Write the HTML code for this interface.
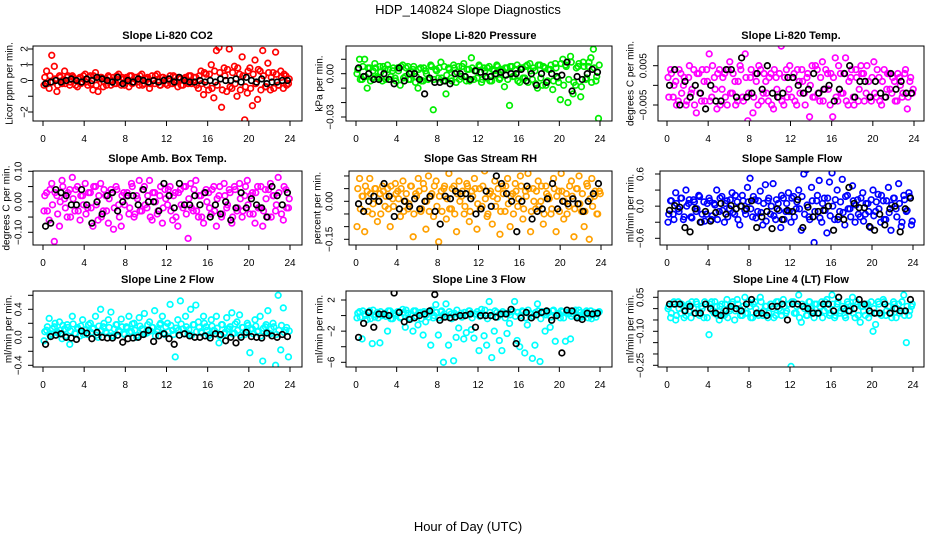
<!DOCTYPE html>
<html><head><meta charset="utf-8"><style>
html,body{margin:0;padding:0;background:#fff;}
svg{display:block;font-family:"Liberation Sans",sans-serif;}
</style></head><body>
<svg id="chart" width="936" height="540" viewBox="0 0 936 540">
<rect width="936" height="540" fill="#fff"/>
<text x="468" y="14" text-anchor="middle" font-size="13">HDP_140824  Slope Diagnostics</text>
<text x="468" y="531" text-anchor="middle" font-size="13">Hour of Day (UTC)</text>
</svg>
<script>
const xTicks=[0,4,8,12,16,20,24];
const titles=["Slope Li-820 CO2","Slope Li-820 Pressure","Slope Li-820 Temp.","Slope Amb. Box Temp.","Slope Gas Stream RH","Slope Sample Flow","Slope Line 2 Flow","Slope Line 3 Flow","Slope Line 4 (LT) Flow"];
const yTitles=["Licor ppm per min.","kPa per min.","degrees C per min.","degrees C per min.","percent per min.","ml/min per min.","ml/min per min.","ml/min per min.","ml/min per min."];
const yTicks1=[-2,-1,0,1,2], yLab1=["−2","","0","1","2"];
const yTicks2=[-0.03,-0.02,-0.01,0,0.01], yLab2=["−0.03","","","0.00",""];
const yTicks3=[-0.005,0,0.005], yLab3=["−0.005","","0.005"];
const yTicks4=[-0.1,-0.05,0,0.05,0.1], yLab4=["−0.10","","0.00","","0.10"];
const yTicks5=[-0.15,-0.1,-0.05,0,0.05,0.1], yLab5=["−0.15","","","0.00","",""];
const yTicks6=[-0.6,-0.3,0,0.3,0.6], yLab6=["−0.6","","0.0","","0.6"];
const yTicks7=[-0.4,-0.2,0,0.2,0.4,0.6], yLab7=["−0.4","","0.0","","0.4",""];
const yTicks8=[-6,-4,-2,0,2], yLab8=["−6","","−2","","2"];
const yTicks9=[-0.25,-0.2,-0.15,-0.1,-0.05,0,0.05], yLab9=["−0.25","","","−0.10","","","0.05"];

const c1=[-0.3,0.6,-0.5,1.6,0.9,-0.7,0.3,-0.2,0.6,0.2,-0.3,0.3,0.1,-0.4,0.2,-0.1,
0.4,-0.3,0.3,-0.6,0.5,-0.7,0.2,-0.4,0.1,0.3,-0.3,0.2,-0.2,0.4,-0.3,0.1,
0.2,-0.4,0.3,-0.1,0.2,-0.3,0.4,-0.2,0.1,-0.5,0.3,-0.2,0.4,-0.3,0.2,0.1,
-0.3,0.3,-0.2,0.2,-0.4,0.1,-0.3,0.2,-0.2,0.3,-0.1,0.2,-0.5,0.6,-0.9,0.4,
-0.6,1.0,-1.1,1.9,2.1,-1.7,0.8,-0.7,2.0,-0.5,0.9,-1.0,0.4,1.5,-2.5,-0.8,
0.8,-1.6,1.3,-1.2,0.6,1.9,-0.4,1.1,-0.6,0.5,1.8,-0.3,0.6,-0.5,0.3,-0.2];
const d1=[0.2,-0.2,0.3,-0.1,0.1,-0.3,0.2,0.0,-0.2,0.3,-0.1,0.2,-0.3,0.1,-0.2,0.3,
-0.1,0.2,-0.2,0.3,-0.3,0.1,0.2,-0.1,-0.3,0.2,0.0,-0.2,0.3,-0.1,0.2,-0.3,
0.1,0.3,-0.2,0.2,-0.1,0.3,-0.3,0.1,0.2,-0.2,0.0,0.3,-0.1,-0.3,0.2,-0.2,
0.1,-0.2,0.3,-0.1,0.2,-0.3,0.1,-0.1,0.3,-0.2,0.2,-0.3,0.3,-0.2,0.5,-0.3,
0.4,-0.5,0.6,-0.3,0.5,-0.6,0.3,0.7,-0.4,0.5,-0.2,0.8,-0.6,0.3,-0.4,0.6,
-0.5,0.4,-0.2,0.7,-0.6,0.3,-0.4,0.5,0.2,-0.5,0.4,-0.3,0.2,0.4,-0.3,0.1];
const b1=[-0.2,-0.1,0.0,-0.1,0.0,0.1,0.0,-0.1,
0.1,0.0,0.2,0.1,0.0,-0.1,0.2,-0.2,
0.0,-0.1,0.1,0.0,-0.1,0.0,-0.1,0.0,
0.1,-0.1,0.2,0.0,-0.1,-0.1,0.0,-0.1,
0.0,-0.1,0.1,0.0,0.0,0.1,-0.1,0.2,
0.0,-0.1,0.1,-0.2,-0.1,-0.1,0.0,0.0];
const c2=[0.000,0.010,-0.004,0.010,-0.010,0.004,-0.003,0.007,-0.002,0.005,-0.005,0.003,0.006,-0.004,0.002,-0.003,
0.004,-0.008,0.006,-0.002,0.005,-0.004,0.003,-0.006,-0.010,0.004,-0.005,0.002,-0.004,0.006,-0.025,0.003,
-0.003,0.008,-0.005,-0.014,0.004,-0.003,0.006,-0.006,0.005,-0.002,0.007,-0.005,0.003,0.011,-0.004,0.002,
0.006,-0.006,0.004,-0.003,0.005,-0.005,0.002,0.006,-0.004,0.003,-0.009,0.004,-0.022,0.005,-0.002,0.006,
-0.006,0.004,-0.003,0.006,0.007,-0.004,0.002,-0.010,0.006,-0.008,0.004,-0.005,0.003,-0.011,0.007,-0.003,
-0.018,0.010,0.006,-0.020,0.012,-0.014,-0.008,0.005,-0.016,0.008,-0.004,0.005,0.011,0.017,-0.005,-0.031];
const d2=[0.003,-0.004,0.005,-0.002,0.004,-0.005,0.002,0.004,-0.003,0.001,0.005,-0.004,0.003,-0.002,0.004,-0.005,
0.002,0.005,-0.003,0.004,-0.004,0.001,0.005,-0.002,0.003,-0.005,0.004,0.000,-0.003,0.005,-0.004,0.002,
0.004,-0.003,0.005,-0.001,0.003,-0.005,0.004,0.001,-0.004,0.005,-0.002,0.003,-0.005,0.004,0.002,-0.003,
0.005,-0.004,0.002,0.004,-0.005,0.003,-0.001,0.005,-0.003,0.002,0.004,-0.004,0.005,-0.002,0.003,-0.005,
0.004,-0.003,0.005,-0.006,0.002,0.004,-0.007,0.006,-0.003,0.005,-0.008,0.003,0.006,-0.005,0.004,-0.006,
0.007,-0.008,0.005,-0.004,0.008,-0.006,0.004,0.007,-0.009,0.005,-0.003,0.008,-0.006,0.004,-0.002,0.006];
const b2=[0.004,-0.002,0.000,-0.004,-0.004,0.000,-0.004,-0.007,
0.004,-0.005,0.000,0.000,-0.004,-0.014,-0.003,-0.006,
-0.006,-0.005,-0.007,0.000,0.000,-0.002,-0.004,0.002,
0.001,-0.002,-0.002,0.000,0.001,-0.001,0.000,0.000,
0.003,-0.005,0.000,-0.008,0.000,-0.006,0.000,-0.002,
-0.001,0.008,-0.012,-0.002,-0.004,0.000,0.003,0.001];
const c3=[0.002,0.004,-0.003,0.001,-0.004,0.003,0.000,-0.005,0.002,-0.002,0.004,-0.007,0.003,-0.004,0.001,0.004,
0.008,-0.003,0.002,-0.006,0.004,-0.001,0.003,-0.005,0.006,-0.002,0.001,-0.004,0.005,-0.003,0.008,-0.009,
0.002,-0.007,0.003,-0.005,0.004,-0.002,0.001,-0.004,0.003,-0.006,0.002,-0.003,0.010,-0.005,0.004,-0.001,
-0.003,0.003,-0.005,0.001,0.004,-0.002,0.002,-0.008,0.005,-0.003,0.004,-0.004,0.006,-0.001,0.003,-0.005,
-0.008,0.007,-0.004,0.003,-0.002,0.007,-0.005,0.002,-0.003,0.004,-0.004,0.005,0.003,-0.002,0.001,-0.004,
0.006,-0.003,0.002,-0.005,0.004,-0.001,0.003,-0.002,0.001,-0.004,0.002,-0.003,0.003,-0.006,0.001,-0.002];
const d3=[-0.003,0.003,0.000,-0.005,0.004,-0.002,0.002,-0.004,0.005,-0.001,-0.005,0.003,-0.002,0.004,-0.004,0.001,
-0.004,0.005,-0.001,0.003,-0.005,0.002,-0.003,0.004,-0.002,0.003,-0.005,0.001,0.004,-0.004,0.002,-0.002,
0.004,-0.003,0.001,0.005,-0.004,0.003,-0.002,0.002,-0.005,0.004,-0.001,0.003,-0.004,0.002,-0.003,0.005,
0.002,-0.004,0.004,-0.002,0.001,-0.005,0.003,0.000,-0.003,0.005,-0.002,0.002,-0.004,0.004,-0.001,0.003,
0.002,-0.003,0.005,-0.002,0.003,-0.004,0.001,0.004,-0.005,0.002,-0.001,0.003,-0.004,0.005,-0.003,0.002,
-0.002,0.004,-0.004,0.001,-0.003,0.003,-0.001,0.002,-0.004,0.003,0.000,-0.002,0.004,-0.003,0.002,-0.001];
const b3=[0.000,0.004,-0.005,0.001,-0.003,0.000,-0.002,-0.006,
0.000,-0.004,-0.004,0.004,0.004,-0.003,0.007,-0.003,
-0.002,0.003,-0.001,0.005,-0.002,-0.003,-0.002,0.002,
0.002,0.000,-0.002,-0.001,0.003,-0.002,-0.001,0.000,
-0.004,-0.001,0.003,0.005,-0.003,0.001,0.001,-0.003,
0.001,-0.002,-0.003,0.003,-0.001,0.001,-0.002,-0.002];
const c4=[-0.03,0.03,-0.06,0.06,-0.13,0.02,-0.08,0.07,0.01,-0.05,0.04,0.08,-0.03,0.05,-0.06,0.02,
0.06,-0.02,0.03,-0.08,0.05,-0.06,0.06,-0.03,0.02,-0.07,0.04,-0.09,0.05,-0.01,-0.08,0.03,
0.02,-0.04,0.06,-0.05,0.02,0.07,-0.03,0.05,-0.02,0.07,-0.06,0.03,-0.04,0.02,-0.07,0.04,
-0.01,0.05,-0.06,0.03,-0.08,0.04,-0.02,0.05,-0.12,0.06,-0.03,0.07,-0.05,0.02,-0.07,0.04,
0.03,-0.04,0.05,-0.08,0.02,-0.05,0.06,-0.02,0.04,-0.07,0.05,-0.03,0.06,-0.05,0.02,0.07,
-0.04,0.03,-0.07,0.05,-0.02,-0.08,0.04,-0.05,0.06,0.02,-0.03,0.08,0.11,-0.06,0.04,-0.02];
const d4=[0.02,-0.03,0.04,-0.01,0.03,-0.04,0.00,0.05,-0.02,0.03,-0.05,0.01,0.04,-0.03,0.02,-0.01,
-0.04,0.03,-0.02,0.05,-0.01,0.02,-0.05,0.04,-0.03,0.01,0.03,-0.02,0.04,-0.05,0.02,-0.01,
0.03,-0.02,0.05,-0.04,0.01,-0.03,0.04,-0.01,0.02,-0.05,0.03,0.00,-0.03,0.05,-0.02,0.01,
0.04,-0.03,0.02,-0.05,0.03,-0.01,0.05,-0.04,0.01,-0.02,0.04,-0.03,0.02,-0.05,0.03,0.00,
-0.02,0.04,-0.03,0.01,0.05,-0.04,0.02,-0.01,0.03,-0.05,0.04,-0.02,0.01,-0.03,0.05,-0.01,
0.02,-0.04,0.03,-0.02,0.05,-0.03,0.01,0.04,-0.05,0.02,-0.01,0.03,-0.04,0.05,-0.02,0.01];
const b4=[-0.08,-0.07,0.04,0.03,0.02,-0.01,-0.01,0.04,
-0.01,-0.07,0.00,-0.04,0.02,0.03,-0.03,0.00,
0.02,0.02,-0.01,0.04,0.00,0.00,-0.03,0.06,
0.02,-0.02,0.06,-0.01,-0.01,0.02,-0.01,0.03,
-0.05,-0.01,-0.04,0.00,-0.06,-0.02,0.03,-0.02,
0.01,-0.01,-0.02,-0.05,0.05,0.02,-0.01,0.03];
const c5=[-0.10,0.09,0.02,-0.12,0.04,0.09,-0.05,0.05,-0.08,0.03,0.06,-0.02,0.05,-0.10,0.01,0.07,
0.04,-0.06,0.08,0.00,-0.03,0.06,-0.14,0.03,0.09,-0.04,0.07,-0.11,0.10,0.02,-0.06,0.08,
-0.16,0.04,0.05,-0.07,0.11,-0.03,0.06,-0.12,0.08,0.02,-0.05,0.07,-0.08,0.04,0.09,-0.11,
0.05,-0.02,0.12,-0.06,0.03,-0.09,0.08,0.01,-0.13,0.06,-0.04,0.09,-0.10,0.03,0.07,-0.02,
0.10,-0.07,0.04,0.11,-0.12,0.05,-0.03,0.08,0.00,-0.09,0.06,0.02,-0.05,0.09,-0.12,0.04,
0.11,-0.07,0.03,-0.02,0.08,-0.14,0.05,0.10,-0.04,-0.10,0.07,-0.15,0.09,0.02,-0.05,0.04];
const d5=[0.05,-0.03,0.02,0.06,-0.04,0.03,-0.01,0.05,0.00,-0.05,0.04,0.02,-0.03,0.06,-0.02,0.03,
0.01,0.05,-0.04,0.03,-0.01,0.06,-0.05,0.02,0.04,-0.03,0.05,0.00,-0.04,0.03,0.06,-0.02,
0.02,-0.04,0.06,0.01,-0.03,0.05,-0.05,0.03,0.00,0.04,-0.02,0.06,-0.04,0.02,0.05,-0.01,
-0.03,0.06,0.01,-0.05,0.04,0.02,-0.02,0.05,-0.04,0.03,0.06,-0.01,0.02,-0.05,0.04,0.01,
0.06,-0.03,0.02,0.05,-0.04,0.00,0.04,-0.02,0.06,-0.05,0.03,0.01,-0.03,0.05,0.02,-0.04,
0.04,0.00,-0.05,0.06,0.02,-0.03,0.05,-0.01,0.03,-0.04,0.06,0.01,-0.02,0.04,-0.05,0.03];
const b5=[-0.01,-0.04,0.00,0.02,0.00,0.07,0.02,-0.06,
-0.03,0.00,-0.02,0.01,-0.03,0.00,0.02,-0.04,
-0.09,0.02,0.01,0.04,0.03,0.03,0.01,-0.05,
-0.03,0.04,-0.02,0.10,0.07,0.03,0.00,-0.12,
0.00,0.06,-0.07,-0.04,-0.03,0.01,0.07,-0.03,
0.00,-0.01,0.01,-0.01,-0.04,0.00,0.03,0.07];
const c6=[-0.30,0.10,-0.15,0.25,-0.05,0.15,-0.25,0.30,0.05,-0.20,0.12,-0.10,0.20,-0.30,0.08,-0.15,
0.15,-0.25,0.05,0.30,-0.10,0.18,-0.30,0.10,-0.05,0.25,-0.15,0.08,-0.35,0.20,-0.08,0.35,
0.52,-0.20,0.12,-0.10,0.28,-0.35,0.40,0.10,-0.15,0.42,-0.25,0.05,-0.40,0.15,-0.10,0.25,
-0.30,0.18,-0.05,0.30,-0.45,0.60,0.68,-0.20,0.35,-0.68,0.10,0.48,-0.30,0.15,-0.50,0.45,
0.62,-0.25,0.30,-0.10,0.50,-0.35,0.20,-0.05,0.38,-0.30,0.12,-0.20,0.25,-0.15,0.05,-0.40,
0.30,-0.10,0.22,-0.30,0.10,-0.25,0.35,-0.45,0.15,-0.05,0.42,-0.38,0.20,-0.10,0.25,-0.35];
const d6=[-0.15,0.10,-0.25,0.05,-0.10,0.15,-0.20,0.00,0.12,-0.22,0.08,-0.05,0.18,-0.15,-0.28,0.05,
0.10,-0.18,0.02,-0.25,0.15,-0.08,0.05,-0.20,0.12,-0.12,0.20,-0.25,0.00,0.10,-0.15,0.08,
-0.05,0.18,-0.22,0.10,-0.12,0.05,-0.28,0.15,0.00,-0.18,0.12,-0.08,0.20,-0.25,0.05,-0.10,
0.15,-0.20,0.08,-0.05,0.18,-0.15,0.02,-0.25,0.10,-0.10,0.20,-0.22,0.05,-0.08,0.15,-0.18,
0.00,0.12,-0.25,0.08,-0.12,0.18,-0.05,-0.20,0.10,0.02,-0.15,0.15,-0.28,0.05,-0.10,0.12,
-0.18,0.08,-0.05,0.20,-0.25,0.10,-0.12,0.02,0.15,-0.20,0.05,-0.30,0.12,-0.08,0.18,-0.28];
const b6=[-0.08,0.01,-0.02,-0.40,-0.48,-0.05,-0.30,-0.10,
-0.28,-0.12,0.05,-0.15,0.01,-0.05,0.00,-0.05,
0.10,-0.40,-0.20,-0.10,-0.42,-0.05,-0.25,-0.08,
-0.10,0.12,-0.40,-0.02,-0.20,-0.10,-0.08,0.00,
-0.45,-0.20,-0.25,0.35,0.05,-0.03,-0.03,-0.38,
-0.45,-0.15,-0.35,-0.05,0.00,-0.48,-0.05,0.15];
const c7=[-0.05,0.10,0.27,0.05,0.15,0.08,0.22,-0.02,0.12,0.18,-0.10,0.30,0.06,0.14,0.02,0.25,
0.10,0.04,0.20,0.12,0.30,0.00,0.40,0.15,0.08,0.25,0.36,0.02,0.18,0.10,0.26,0.05,
0.15,0.30,0.08,0.20,0.00,0.28,0.12,0.34,0.06,0.22,0.14,0.38,0.08,0.18,0.30,0.04,
0.20,0.47,0.10,-0.28,0.25,0.52,0.12,0.30,0.05,0.40,0.18,0.46,0.22,0.08,0.30,0.15,
0.02,0.25,0.10,0.30,-0.08,0.18,0.05,0.28,0.12,0.35,0.06,0.22,0.32,0.14,0.04,0.20,
-0.22,0.12,0.25,0.08,0.30,-0.34,0.15,0.38,0.05,0.20,-0.40,0.60,-0.18,0.42,0.10,-0.28];
const d7=[0.08,0.15,0.03,0.12,0.20,0.06,0.10,0.17,0.02,0.14,0.09,0.19,0.05,0.12,0.16,0.04,
0.11,0.18,0.07,0.13,0.03,0.16,0.10,0.20,0.06,0.14,0.02,0.12,0.18,0.08,0.15,0.04,
0.13,0.07,0.19,0.10,0.03,0.16,0.12,0.05,0.18,0.09,0.14,0.02,0.11,0.20,0.06,0.15,
0.08,0.17,0.04,0.13,0.10,0.19,0.05,0.15,0.11,0.03,0.18,0.08,0.14,0.06,0.20,0.10,
0.04,0.16,0.09,0.13,0.02,0.18,0.07,0.12,0.15,0.05,0.19,0.10,0.03,0.14,0.08,0.17,
0.11,0.05,0.16,0.09,0.02,0.13,0.18,0.06,0.12,0.15,0.04,0.10,0.17,0.07,0.14,0.09];
const b7=[-0.10,0.01,0.03,0.05,0.00,-0.01,-0.03,0.09,
0.06,-0.02,0.07,0.00,-0.01,-0.01,0.03,-0.07,
-0.02,-0.01,0.00,0.04,0.10,-0.06,0.02,0.05,
-0.02,-0.10,0.03,0.05,0.02,0.00,0.00,0.02,
-0.01,0.05,0.04,-0.05,0.00,-0.08,0.00,0.07,
0.01,0.00,-0.01,0.06,0.02,0.00,0.04,0.01];
const c8=[-0.3,0.5,-3.0,0.2,-0.5,0.6,-3.6,-0.2,0.4,-3.5,0.0,0.3,-2.0,0.6,-0.4,0.2,
0.5,-0.3,0.8,-1.5,0.3,-0.5,-2.0,0.6,-1.2,0.4,-2.5,-0.8,0.5,-3.8,-0.3,1.4,
-2.5,0.5,-6.0,1.5,-3.8,0.2,-5.8,-2.8,-1.6,0.3,-3.0,-2.2,0.6,-1.8,-2.9,0.2,
-4.5,0.8,-2.6,-3.8,1.8,-5.4,-2.0,0.4,-3.2,-4.5,0.3,-2.3,-1.0,0.5,1.8,-3.2,
-4.0,0.6,-4.8,-1.2,0.3,-5.5,-3.8,1.5,-5.9,0.5,-2.0,0.3,-1.5,0.6,-3.3,0.2,
-0.3,0.5,-3.3,0.4,-3.0,0.2,0.7,-0.2,0.4,0.0,0.5,-0.3,0.6,0.1,-0.2,0.4];
const d8=[0.3,-0.2,0.6,0.0,0.4,-0.4,0.7,0.1,-0.3,0.5,0.2,-0.1,0.6,-0.4,0.3,0.0,
0.5,-0.2,0.4,0.7,-0.3,0.2,0.6,-0.1,0.3,-0.4,0.5,0.1,-0.2,0.7,0.0,0.4,
-0.3,0.6,0.2,-0.1,0.5,-0.4,0.3,0.7,0.0,-0.2,0.4,0.1,0.6,-0.3,0.2,0.5,
-0.1,0.3,0.7,-0.4,0.4,0.0,0.6,-0.2,0.2,0.5,-0.3,0.3,0.1,0.6,-0.1,0.4,
0.0,0.5,-0.3,0.7,0.2,-0.1,0.4,0.6,-0.4,0.3,0.1,0.5,-0.2,0.7,0.0,0.3,
0.6,-0.3,0.4,0.2,-0.1,0.5,0.0,0.7,-0.2,0.3,0.6,0.1,-0.4,0.4,0.2,0.5];
const b8=[-2.8,-1.0,0.4,-1.5,0.2,0.2,0.0,2.9,
0.4,-0.8,-0.5,-0.3,0.0,0.2,0.6,2.7,
-0.6,-0.2,-0.3,-0.2,0.0,0.0,0.2,-1.5,
0.0,0.0,0.0,-0.2,0.2,0.2,0.8,-3.6,
-0.3,0.4,-0.3,0.1,0.4,0.6,-0.6,0.0,
-4.8,0.7,0.6,-0.3,-0.5,0.3,0.2,0.3];
const c9=[0.00,-0.04,0.02,-0.05,0.03,-0.02,0.01,-0.03,0.02,-0.04,0.00,0.03,-0.02,0.01,-0.04,0.02,
-0.115,0.03,-0.02,0.01,-0.05,0.02,-0.03,0.04,-0.01,0.02,-0.05,0.04,0.00,-0.03,0.05,-0.02,
0.01,-0.04,0.03,-0.02,0.05,-0.03,0.01,-0.04,0.02,0.00,-0.03,0.03,-0.01,0.04,-0.02,0.02,
-0.255,0.03,-0.02,0.06,-0.06,0.01,-0.03,0.03,0.00,-0.04,0.02,-0.02,0.03,-0.01,0.04,-0.03,
0.06,-0.04,0.02,-0.02,0.01,-0.03,0.03,-0.01,0.05,-0.04,0.02,-0.06,0.01,-0.03,0.02,-0.02,
-0.10,-0.07,0.03,-0.02,0.04,-0.03,0.01,-0.02,0.03,-0.04,0.02,-0.01,0.06,-0.15,-0.03,0.01];
const d9=[0.01,-0.02,0.03,-0.03,0.00,0.02,-0.04,0.01,-0.01,0.03,-0.02,0.02,-0.03,0.00,0.03,-0.04,
0.02,-0.01,0.03,-0.03,0.01,-0.02,0.02,-0.04,0.00,0.03,-0.01,0.02,-0.03,0.01,-0.02,0.03,
-0.04,0.02,0.00,-0.03,0.03,-0.01,0.01,-0.02,0.02,-0.04,0.03,0.00,-0.03,0.01,-0.01,0.02,
0.03,-0.02,0.01,-0.04,0.02,0.00,-0.03,0.03,-0.01,0.02,-0.02,0.01,-0.04,0.03,0.00,-0.02,
0.02,-0.03,0.03,-0.01,0.00,-0.04,0.02,0.01,-0.02,0.03,-0.03,0.01,-0.01,0.02,-0.04,0.03,
0.00,-0.02,0.02,-0.03,0.03,-0.01,0.01,-0.04,0.02,0.00,-0.02,0.03,-0.03,0.01,-0.01,0.02];
const b9=[0.02,0.02,0.02,-0.01,0.01,-0.02,-0.02,0.02,
0.00,-0.02,-0.03,-0.01,0.01,0.00,-0.01,0.02,
0.04,-0.02,-0.02,-0.03,0.01,0.01,0.02,-0.05,
0.02,0.02,0.01,0.00,-0.02,-0.02,0.02,0.02,
-0.01,0.05,0.00,-0.01,0.00,0.04,0.02,-0.01,
-0.02,-0.02,0.02,-0.02,0.00,-0.01,-0.01,0.04];

const NS="http://www.w3.org/2000/svg";
const svg=document.getElementById('chart');
function mk(tag,attrs,parent){const e=document.createElementNS(NS,tag);for(const k in attrs)e.setAttribute(k,attrs[k]);(parent||svg).appendChild(e);return e;}

const layout=[
 {box:[33,302,46,121],hx:[43,290],cal:[2,49,-2,112],yl:10,tk:25,ty:35},
 {box:[346,612,46,121],hx:[356,600],cal:[0,73.7,-0.03,117],yl:320,tk:331,ty:35},
 {box:[658,924,46,121],hx:[667,914],cal:[0.005,65.7,-0.005,105],yl:631,tk:644,ty:35},
 {box:[33,302,171,245],hx:[43,290],cal:[0.1,171.3,-0.1,232.3],yl:7,tk:19,ty:158},
 {box:[349,612,171,245],hx:[356,601],cal:[0,201.3,-0.15,239.3],yl:318,tk:330,ty:158},
 {box:[660,924,171,245],hx:[667,913],cal:[0.6,174,-0.6,238.3],yl:631,tk:641,ty:158},
 {box:[33,302,291,367],hx:[43,290],cal:[0.4,309.3,-0.4,365.3],yl:9,tk:19,ty:279},
 {box:[346,612,291,367],hx:[356,600],cal:[2,300,-6,362.3],yl:320,tk:332,ty:279},
 {box:[658,924,291,367],hx:[667,913],cal:[0.05,297.3,-0.25,365.3],yl:631,tk:641,ty:279}
];
const colored=[c1,c2,c3,c4,c5,c6,c7,c8,c9];
const dense=[d1,d2,d3,d4,d5,d6,d7,d8,d9];
const blacks=[b1,b2,b3,b4,b5,b6,b7,b8,b9];
const yTickSets=[yTicks1,yTicks2,yTicks3,yTicks4,yTicks5,yTicks6,yTicks7,yTicks8,yTicks9];
const yLabSets=[yLab1,yLab2,yLab3,yLab4,yLab5,yLab6,yLab7,yLab8,yLab9];
const colors=["#ff0000","#00ee00","#ff00ff","#ff00ff","#ffa000","#0000ff","#00ffff","#00ffff","#00ffff"];
const slugs=["co2","pressure","li820-temp","amb-box-temp","gas-stream-rh","sample-flow","line2-flow","line3-flow","line4-flow"];

layout.forEach((L,p)=>{
  const g=mk('g',{});
  
  
  const [bl,br,bt,bb]=L.box;
  const xs=h=>L.hx[0]+(L.hx[1]-L.hx[0])*h/24;
  const [v1,p1,v2,p2]=L.cal;
  const ys=v=>p1+(v-v1)*(p2-p1)/(v2-v1);
  const clip='clip'+p;
  const cp=mk('clipPath',{id:clip},g);
  mk('rect',{x:bl,y:bt,width:br-bl,height:bb-bt},cp);
  const t=mk('text',{x:(bl+br)/2,y:L.ty+4,'text-anchor':'middle','font-size':'11','font-weight':'bold'},g);
  t.textContent=titles[p];
  
  
  const yt=mk('text',{x:L.yl,y:(bt+bb)/2,'text-anchor':'middle','font-size':'10','dominant-baseline':'central',transform:`rotate(-90 ${L.yl} ${(bt+bb)/2})`},g);
  yt.textContent=yTitles[p];
  
  
  const pts=mk('g',{'clip-path':`url(#${clip})`,fill:'none','stroke-width':'1.7'},g);
  const n=colored[p].length;
  colored[p].forEach((v,i)=>{
    const c=mk('circle',{cx:xs(i*24/n+0.1),cy:ys(v),r:2.8,stroke:colors[p]},pts);
    
    
  });
  const nd=dense[p].length;
  dense[p].forEach((v,i)=>{
    const c=mk('circle',{cx:xs((i+0.5)*24/nd+0.05),cy:ys(v),r:2.8,stroke:colors[p]},pts);
    
    
  });
  const m=blacks[p].length;
  blacks[p].forEach((v,i)=>{
    const c=mk('circle',{cx:xs((i+0.5)*24/m),cy:ys(v),r:2.8,stroke:'#000'},pts);
    
    
  });
  const bx=mk('rect',{x:bl,y:bt,width:br-bl,height:bb-bt,fill:'none',stroke:'#000','stroke-width':'1'},g);
  
  
  xTicks.forEach(h=>{
    mk('line',{x1:xs(h),x2:xs(h),y1:bb,y2:bb+5,stroke:'#000'},g);
    const tl=mk('text',{x:xs(h),y:bb+21,'text-anchor':'middle','font-size':'10'},g);
    tl.textContent=h;
    
    
  });
  yTickSets[p].forEach((v,i)=>{
    const y=ys(v);
    mk('line',{x1:bl-5,x2:bl,y1:y,y2:y,stroke:'#000'},g);
    const lab=yLabSets[p][i];
    if(lab){
      const tl=mk('text',{x:L.tk,y:y,'text-anchor':'middle','dominant-baseline':'central','font-size':'10',transform:`rotate(-90 ${L.tk} ${y})`},g);
      tl.textContent=lab;
      
      
    }
  });
});
</script>
</body></html>
